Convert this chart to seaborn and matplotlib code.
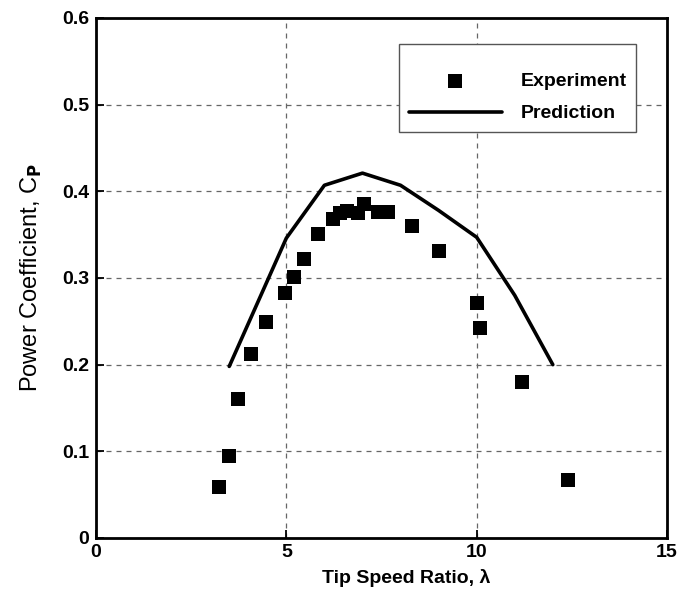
import matplotlib
matplotlib.use("Agg")
import matplotlib.pyplot as plt
import seaborn as sns
import pandas as pd

exp_tsr = [3.23, 3.49, 3.73, 4.07, 4.47, 4.96, 5.20, 5.46, 5.83, 6.23, 6.41, 6.59,
           6.88, 7.04, 7.41, 7.67, 8.30, 9.01, 10.01, 10.09, 11.19, 12.40]
exp_cp = [0.059, 0.095, 0.160, 0.212, 0.249, 0.283, 0.301, 0.322, 0.351, 0.368, 0.375, 0.377,
          0.375, 0.385, 0.376, 0.376, 0.360, 0.331, 0.271, 0.242, 0.180, 0.067]

pred_tsr = [3.5, 5.0, 6.0, 7.0, 8.0, 9.0, 10.0, 11.0, 12.0]
pred_cp = [0.198, 0.346, 0.407, 0.421, 0.407, 0.378, 0.347, 0.280, 0.200]

x_ticks = [0, 5, 10, 15]
y_ticks = [0, 0.1, 0.2, 0.3, 0.4, 0.5, 0.6]
y_tick_labels = ["0", "0.1", "0.2", "0.3", "0.4", "0.5", "0.6"]

sns.set_theme(style="white")
plt.rcParams['font.family'] = ['Liberation Sans', 'DejaVu Sans']
plt.rcParams['text.color'] = 'black'
plt.rcParams['axes.labelcolor'] = 'black'
plt.rcParams['xtick.color'] = 'black'
plt.rcParams['ytick.color'] = 'black'

df_exp = pd.DataFrame({"tsr": exp_tsr, "cp": exp_cp})
df_pred = pd.DataFrame({"tsr": pred_tsr, "cp": pred_cp})

fig = plt.figure(figsize=(6.89, 5.97), dpi=100)
ax = fig.add_axes([96/689, 59/597, 571/689, 520/597])

sns.scatterplot(data=df_exp, x="tsr", y="cp", ax=ax, marker="s", s=90, color="black",
                edgecolor="black", linewidth=0, label="Experiment", zorder=3)
sns.lineplot(data=df_pred, x="tsr", y="cp", ax=ax, color="black", linewidth=2.6,
             label="Prediction", zorder=3)

ax.set_xlim(0, 15)
ax.set_ylim(0, 0.6)
ax.set_xticks(x_ticks)
ax.set_xticklabels([str(t) for t in x_ticks])
ax.set_yticks(y_ticks)
ax.set_yticklabels(y_tick_labels)

ax.grid(True, color="#666666", linestyle=(0, (4, 4)), linewidth=0.9)
for s in ax.spines.values():
    s.set_color("black")
    s.set_linewidth(2.0)
    s.set_visible(True)

ax.tick_params(axis="both", direction="in", length=6, width=1.3, colors="black",
               labelsize=14, bottom=True, left=True)
for lab in ax.get_xticklabels() + ax.get_yticklabels():
    lab.set_fontweight("bold")
ax.tick_params(axis="x", pad=4)
ax.tick_params(axis="y", pad=5)

ax.set_xlabel("Tip Speed Ratio, λ", fontsize=14, fontweight="bold", va="top")
ax.xaxis.set_label_coords(0.543, -0.059)
ax.set_ylabel("Power Coefficient, C$_\\mathbf{P}$", fontsize=17, fontweight="normal", labelpad=13)

leg = ax.legend(loc="upper left", bbox_to_anchor=((399 - 96) / 571, 1 - (44 - 18) / 520),
                frameon=True, fancybox=False, framealpha=1, edgecolor="#555555",
                prop={"weight": "bold", "size": 14}, handlelength=4.8,
                borderpad=0.5, labelspacing=0.76, handletextpad=0.95,
                title=" ", title_fontsize=3, borderaxespad=0)
leg.get_frame().set_linewidth(1.0)

fig.savefig("out.png", dpi=100)
